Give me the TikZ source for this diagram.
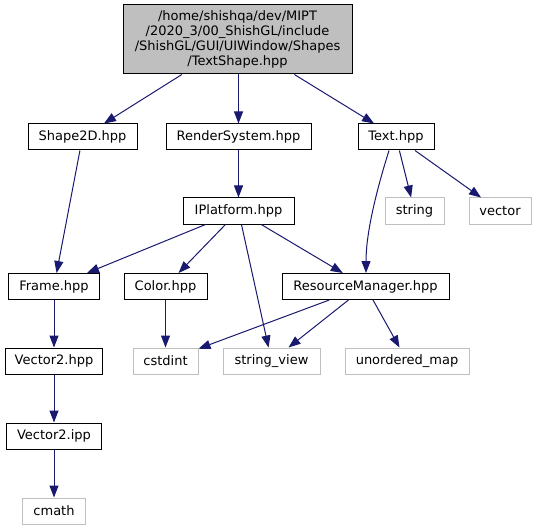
\documentclass[tikz,border=0pt]{standalone}
\usepackage{fontspec}
\setmainfont{DejaVu Sans}
\usetikzlibrary{arrows.meta}

\begin{document}
\begin{tikzpicture}[x=1pt, y=-1pt,
    box/.style={draw=black, line width=1pt, minimum height=26pt, inner sep=0pt, font=\fontsize{13}{15}\selectfont},
    sysbox/.style={box, draw=sysColour},
    dep/.style={draw=edgeColour, line width=1pt, -{Triangle[length=12pt, width=9pt]}}]
    % Define colours
    \definecolor{edgeColour}{HTML}{191970}
    \definecolor{sysColour}{HTML}{BFBFBF}
    \definecolor{fillColour}{HTML}{BFBFBF}

    % Fix the canvas
    \useasboundingbox (0,0) rectangle (537,529);

    % Draw the file being documented
    \node[box, fill=fillColour, minimum width=229pt, minimum height=69pt, align=center] (textshape) at (237.5,39.5)
        {/home/shishqa/dev/MIPT\\/2020\_3/00\_ShishGL/include\\/ShishGL/GUI/UIWindow/Shapes\\/TextShape.hpp};

    % Draw project headers
    \node[box, minimum width=109pt] (shape2d) at (82.5,137) {Shape2D.hpp};
    \node[box, minimum width=145pt] (rendersystem) at (238.5,137) {RenderSystem.hpp};
    \node[box, minimum width=76pt] (text) at (396,137) {Text.hpp};
    \node[box, minimum width=111pt] (iplatform) at (238.5,211) {IPlatform.hpp};
    \node[box, minimum width=91pt] (frame) at (54,286.5) {Frame.hpp};
    \node[box, minimum width=83pt] (color) at (165.5,286.5) {Color.hpp};
    \node[box, minimum width=167pt] (resourcemanager) at (365.5,286.5) {ResourceManager.hpp};
    \node[box, minimum width=97pt] (vector2hpp) at (54,361) {Vector2.hpp};
    \node[box, minimum width=95pt] (vector2ipp) at (54,436) {Vector2.ipp};

    % Draw system headers
    \node[sysbox, minimum width=59pt] (string) at (414.5,211) {string};
    \node[sysbox, minimum width=62pt] (vector) at (500,211) {vector};
    \node[sysbox, minimum width=65pt] (cstdint) at (165.5,361) {cstdint};
    \node[sysbox, minimum width=97pt] (stringview) at (271.5,361) {string\_view};
    \node[sysbox, minimum width=124pt] (unorderedmap) at (407,361) {unordered\_map};
    \node[sysbox, minimum width=63pt] (cmath) at (54,511) {cmath};

    % Draw include edges
    \draw[dep] (textshape) -- (shape2d);
    \draw[dep] (textshape.south -| rendersystem) -- (rendersystem);
    \draw[dep] (textshape) -- (text);
    \draw[dep] (shape2d) -- (frame);
    \draw[dep] (rendersystem) -- (iplatform);
    \draw[dep] (text) -- (string);
    \draw[dep] (text) -- (vector);
    \draw[dep] (text.south -| 389,0) .. controls (375,195) and (366,235) .. (resourcemanager.north -| 366,0);
    \draw[dep] (iplatform) -- (frame);
    \draw[dep] (iplatform) -- (color);
    \draw[dep] (iplatform) -- (stringview);
    \draw[dep] (iplatform) -- (resourcemanager);
    \draw[dep] (frame) -- (vector2hpp);
    \draw[dep] (color) -- (cstdint);
    \draw[dep] (resourcemanager) -- (cstdint);
    \draw[dep] (resourcemanager) -- (stringview);
    \draw[dep] (resourcemanager) -- (unorderedmap);
    \draw[dep] (vector2hpp) -- (vector2ipp);
    \draw[dep] (vector2ipp) -- (cmath);

\end{tikzpicture}
\end{document}
